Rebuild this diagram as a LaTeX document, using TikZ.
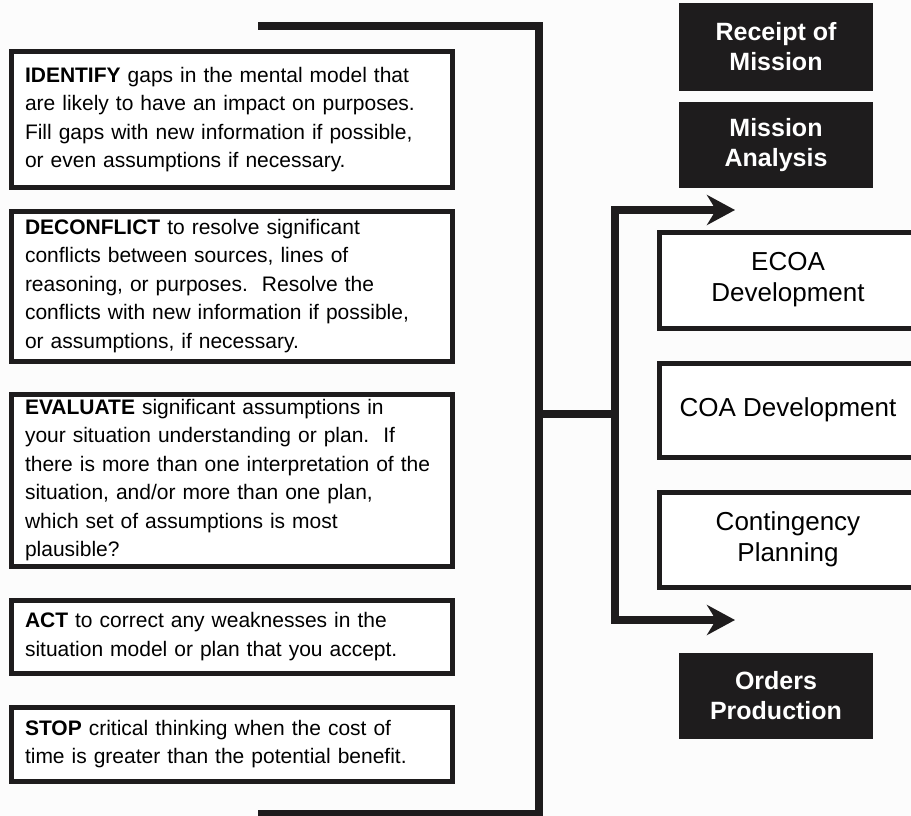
\documentclass[tikz,border=0pt]{standalone}
\usepackage{fontspec}
\setmainfont{Liberation Sans}
\usetikzlibrary{arrows.meta}
\definecolor{ink}{HTML}{1E1C1D}
\definecolor{paper}{HTML}{FCFCFC}
\tikzset{
  leftbox/.style={draw=ink, line width=5pt, fill=white, text width=413pt, inner xsep=14pt, inner ysep=0pt,
    align=left, font=\fontsize{21}{28.5}\selectfont, minimum width=441pt},
  darkbox/.style={fill=ink, draw=none, text=white, align=center, minimum width=194pt,
    font=\bfseries\fontsize{25}{30}\selectfont},
  stagebox/.style={draw=ink, line width=5pt, fill=white, align=center, minimum width=258pt,
    font=\fontsize{26}{31}\selectfont},
  bracketline/.style={draw=ink, line width=8pt, miter limit=10},
  arrowline/.style={draw=ink, line width=8pt, -{Stealth[length=28pt, width=30pt, inset=9pt]}}
}
\begin{document}
\begin{tikzpicture}[x=1pt, y=-1pt]
\useasboundingbox[fill=paper] (0,0) rectangle (911,816);

% left boxes
\node[leftbox, minimum height=135pt] (identify) at (231.5,119.5)
  {\textbf{IDENTIFY} gaps in the mental model that\\are likely to have an impact on purposes.\\Fill gaps with new information if possible,\\or even assumptions if necessary.};
\node[leftbox, minimum height=150pt] (deconflict) at (231.5,286)
  {\textbf{DECONFLICT} to resolve significant\\conflicts between sources, lines of\\reasoning, or purposes.\ \ Resolve the\\conflicts with new information if possible,\\or assumptions, if necessary.};
\node[leftbox, minimum height=172pt] (evaluate) at (231.5,480)
  {\textbf{EVALUATE} significant assumptions in\\your situation understanding or plan.\ \ If\\there is more than one interpretation of the\\situation, and/or more than one plan,\\which set of assumptions is most\\plausible?};
\node[leftbox, minimum height=73pt] (act) at (231.5,636.5)
  {\textbf{ACT} to correct any weaknesses in the\\situation model or plan that you accept.};
\node[leftbox, minimum height=74pt] (stop) at (231.5,744)
  {\textbf{STOP} critical thinking when the cost of\\time is greater than the potential benefit.};

% right column
\node[darkbox, minimum height=88pt] (receipt) at (776,47) {Receipt of\\Mission};
\node[darkbox, minimum height=86pt] (analysis) at (776,145) {Mission\\Analysis};
\node[stagebox, minimum height=96pt] (ecoa) at (788,280) {ECOA\\Development};
\node[stagebox, minimum height=94pt] (coa) at (788,410) {COA Development};
\node[stagebox, minimum height=95pt] (contingency) at (788,539.5) {Contingency\\Planning};
\node[darkbox, minimum height=86pt] (orders) at (776,696) {Orders\\Production};

% bracket and fork
\coordinate (btl) at (258,26);
\coordinate (btr) at (539,26);
\coordinate (bbr) at (539,814);
\coordinate (bbl) at (258,814);
\coordinate (bmid) at (539,414);
\coordinate (fmid) at (615,414);
\coordinate (ftop) at (615,210);
\coordinate (fbot) at (615,620);
\coordinate (atop) at (735,210);
\coordinate (abot) at (735,620);

\draw[bracketline] (btl) -- (btr) -- (bbr) -- (bbl);
\draw[bracketline] (bmid) -- (fmid);
\draw[bracketline] (ftop) -- (fbot);
\draw[arrowline] ([xshift=-4pt]ftop) -- (atop);
\draw[arrowline] ([xshift=-4pt]fbot) -- (abot);
\end{tikzpicture}
\end{document}
